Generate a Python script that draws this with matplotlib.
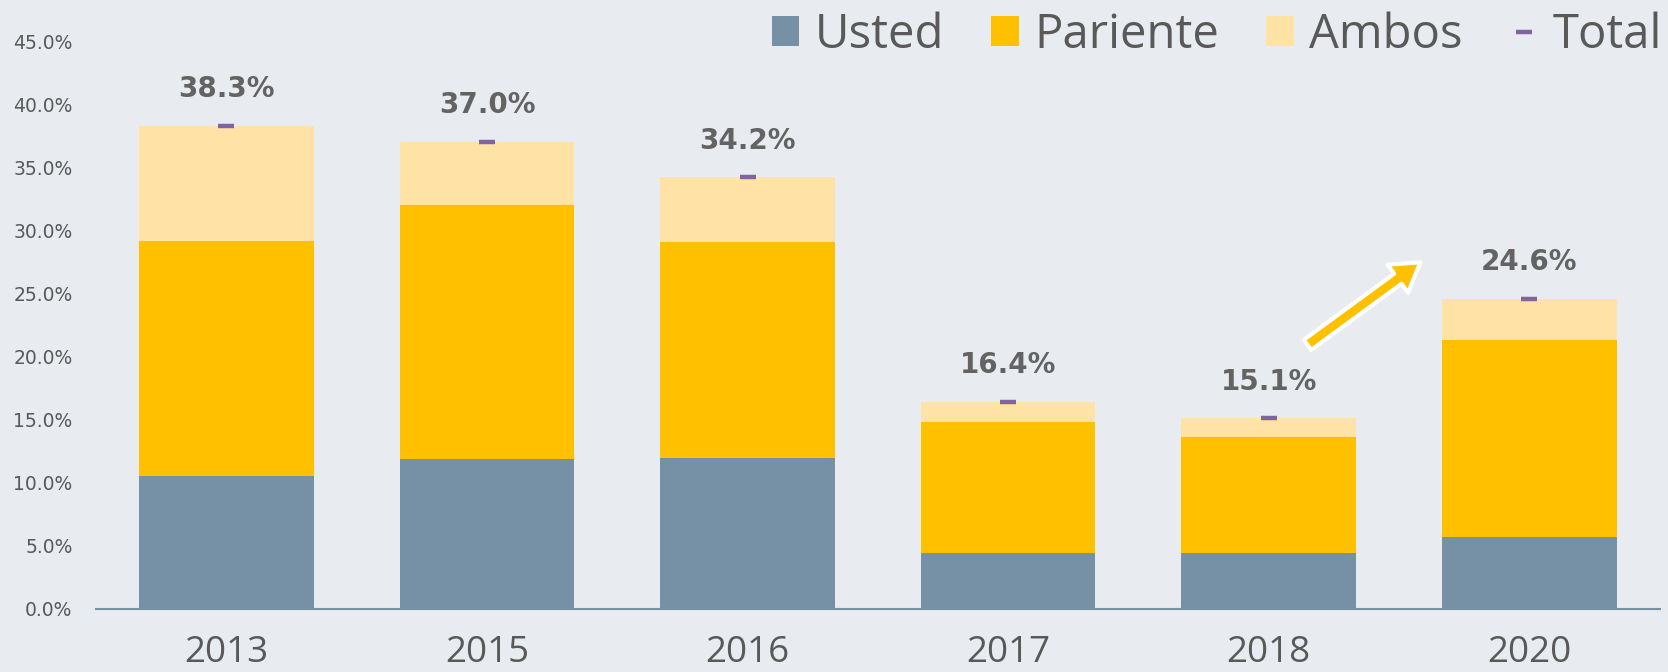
import matplotlib
matplotlib.use("Agg")
import matplotlib.pyplot as plt
from matplotlib.patches import Patch, FancyArrowPatch
from matplotlib.lines import Line2D
import numpy as np

years = ["2013", "2015", "2016", "2017", "2018", "2020"]
usted = [10.5, 11.9, 12.0, 4.4, 4.4, 5.7]
pariente = [18.7, 20.1, 17.1, 10.4, 9.2, 15.6]
ambos = [9.1, 5.0, 5.1, 1.6, 1.5, 3.3]
total = [38.3, 37.0, 34.2, 16.4, 15.1, 24.6]
yticks = [0, 5, 10, 15, 20, 25, 30, 35, 40, 45]

c_usted = "#7691A5"
c_par = "#FFC000"
c_amb = "#FFE2A6"
c_tot = "#8064A2"
bg = "#E8EBF0"
txt = "#595959"

fig = plt.figure(figsize=(16.68, 6.72), dpi=100, facecolor=bg)
ax = fig.add_axes([0.0576, 0.0938, 0.9374, 0.845], facecolor=bg)

x = np.arange(len(years))
w = 0.67
ax.bar(x, usted, w, color=c_usted, zorder=2)
ax.bar(x, pariente, w, bottom=usted, color=c_par, zorder=2)
bot2 = np.array(usted) + np.array(pariente)
ax.bar(x, ambos, w, bottom=bot2, color=c_amb, zorder=2)
ax.plot(x, total, linestyle="none", marker="_", markersize=11, mew=3.2,
        color=c_tot, zorder=3)
for xi, t in zip(x, total):
    ax.text(xi, t + 2.9, f"{t:.1f}%", ha="center", va="center",
            fontsize=20, fontweight="bold", color="#636363",
            family="DejaVu Sans")

ax.set_xlim(-0.5, 5.5)
ax.set_ylim(0, 45)
ax.set_yticks(yticks)
ax.set_yticklabels([f"{v:.1f}%" for v in yticks], fontsize=13.5,
                   color=txt, family="DejaVu Sans")
ax.set_xticks(x)
ax.set_xticklabels(years, fontsize=26.5, color=txt, family="Open Sans")
ax.tick_params(axis="y", length=0, pad=17)
ax.tick_params(axis="x", length=0, pad=19)
for s in ["top", "right", "left"]:
    ax.spines[s].set_visible(False)
ax.spines["bottom"].set_color(c_usted)
ax.spines["bottom"].set_linewidth(1.5)
ax.spines["bottom"].set_zorder(4)

arrow = FancyArrowPatch((4.14, 20.8), (4.59, 27.6),
                        arrowstyle="simple,head_length=2.0,head_width=2.5,tail_width=0.9",
                        mutation_scale=10, facecolor=c_par, edgecolor="white",
                        linewidth=3, zorder=5)
ax.add_patch(arrow)

handles = [Patch(facecolor=c_usted, edgecolor="none"),
           Patch(facecolor=c_par, edgecolor="none"),
           Patch(facecolor=c_amb, edgecolor="none"),
           Line2D([], [], linestyle="none", marker="_", markersize=11, mew=3.2,
                  color=c_tot)]
leg = fig.legend(handles, ["Usted", "Pariente", "Ambos", "Total"], ncol=4,
                 loc="center right", bbox_to_anchor=(0.9966, 0.948),
                 frameon=False, prop={"family": "Open Sans", "size": 34},
                 handlelength=0.58, handleheight=0.58, handletextpad=0.33,
                 columnspacing=1.0, borderaxespad=0, borderpad=0)
for t in leg.get_texts():
    t.set_color(txt)

fig.savefig("out.png", dpi=100, facecolor=bg)
